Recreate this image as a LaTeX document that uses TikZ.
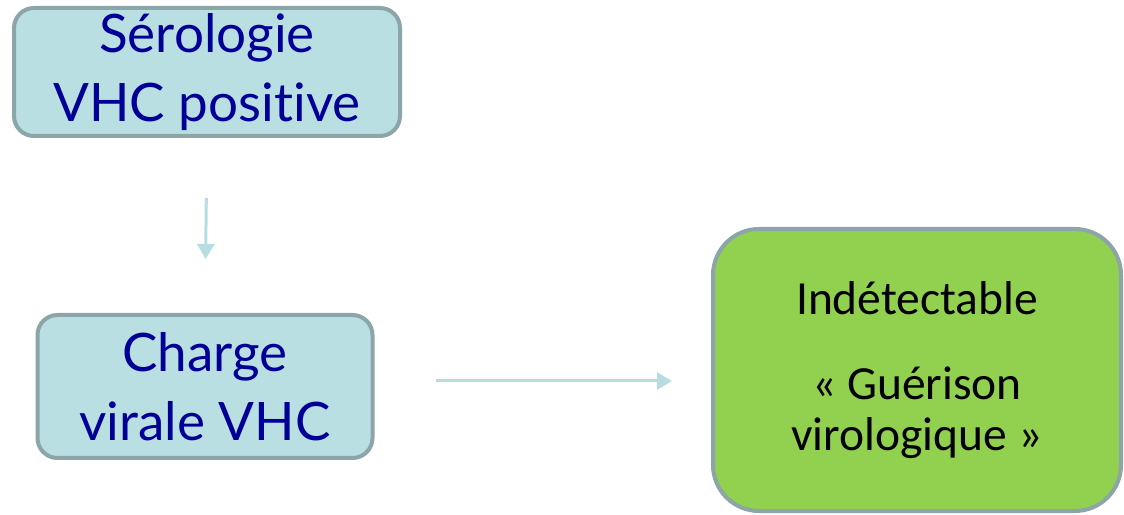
\documentclass[tikz,border=0pt]{standalone}
\usepackage{fontspec}
\setmainfont{Lato}[Ligatures={NoCommon}]
\newfontfamily\calib{Carlito}
\usetikzlibrary{arrows.meta}
\definecolor{boxfill}{HTML}{B9DFE3}
\definecolor{boxline}{HTML}{8CA5A8}
\definecolor{txtblue}{HTML}{000096}
\definecolor{greenfill}{HTML}{92D050}
\definecolor{arrowcol}{HTML}{B7DDE0}
\tikzset{
  bluebox/.style={draw=boxline, line width=4pt, fill=boxfill, rounded corners=20pt,
    text=txtblue, align=center, inner sep=0pt,
    font=\fontsize{53}{69}\selectfont},
  greenbox/.style={draw=boxline, line width=4pt, fill=greenfill, rounded corners=46pt,
    text=black, align=center, inner sep=0pt,
    font=\calib\fontsize{47.5}{51}\selectfont},
  flowarrow/.style={draw=arrowcol, line width=3pt, -{Triangle[length=15pt,width=17pt]}}
}
\begin{document}
\begin{tikzpicture}[x=1pt,y=1pt]
\useasboundingbox (0,0) rectangle (1124,514);
\node[bluebox, minimum width=386pt, minimum height=128pt] (sero) at (207,442) {Sérologie\\VHC positive};
\node[bluebox, minimum width=335pt, minimum height=143pt] (charge) at (205,127.5) {Charge\\virale VHC};
\node[greenbox, minimum width=408pt, minimum height=282pt] (gueri) at (917,144) {Indétectable\\[34pt]« Guérison\\virologique »};
\coordinate (hstart) at ([yshift=5.5pt]charge.east);
\draw[flowarrow, shorten <=60pt, shorten >=54pt] (sero.south) -- (charge.north);
\draw[flowarrow, shorten <=61pt, shorten >=39pt] (hstart) -- (gueri.west |- hstart);
\end{tikzpicture}
\end{document}
